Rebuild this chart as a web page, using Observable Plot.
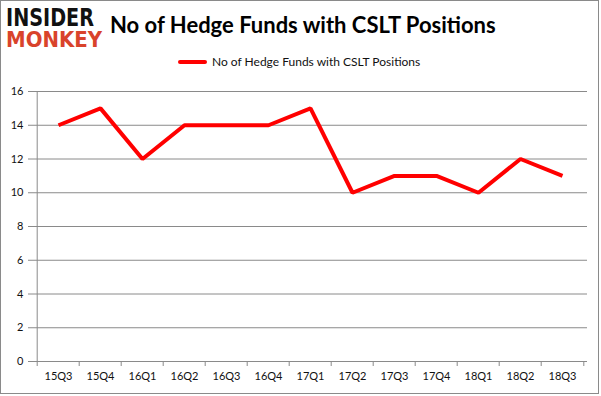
<!DOCTYPE html>
<html>
<head>
<meta charset="utf-8">
<script src="https://cdn.jsdelivr.net/npm/d3@7"></script>
<script src="https://cdn.jsdelivr.net/npm/@observablehq/plot@0.6"></script>
<style>
  body { margin: 0; background: #fff; }
  #wrap { position: relative; width: 601px; height: 396px; overflow: hidden; background: #fff; font-family: Lato, "Open Sans", sans-serif; }
  #frame { position: absolute; left: 0; top: 0; width: 597px; height: 392px; border: 1px solid #8a8a8a; pointer-events: none; }
  .logo { position: absolute; left: 6px; font-family: "DejaVu Sans", sans-serif; font-weight: bold; white-space: nowrap; transform-origin: left top; }
  #logoA { top: 8px; color: #111; font-size: 24px; line-height: 20px; height: 20px; }
  #logoB { top: 31px; color: #d9432b; font-size: 22px; line-height: 18px; height: 18px; }
  #title { position: absolute; left: 110px; top: 14px; font-weight: bold; font-size: 22px; line-height: 22px; color: #000; white-space: nowrap; }
  #legend { position: absolute; left: 178px; top: 56px; font-size: 12px; line-height: 12px; color: #111; display: flex; align-items: center; white-space: nowrap; }
  #legend .sw { width: 29px; height: 4px; background: #ff0000; margin-right: 5px; border-radius: 2px; }
  #chart { position: absolute; left: 0; top: 80px; }
</style>
</head>
<body>
<div id="wrap">
  <div id="logoA" class="logo">INSIDER</div>
  <div id="logoB" class="logo">MONKEY</div>
  <div id="title">No of Hedge Funds with CSLT Positions</div>
  <div id="legend"><span class="sw"></span><span>No of Hedge Funds with CSLT Positions</span></div>
  <div id="chart"></div>
  <div id="frame"></div>
</div>
<script>
const quarters = ["15Q3","15Q4","16Q1","16Q2","16Q3","16Q4","17Q1","17Q2","17Q3","17Q4","18Q1","18Q2","18Q3"];
const funds = [14,15,12,14,14,14,15,10,11,11,10,12,11];
const yTicks = [0,2,4,6,8,10,12,14,16];

// fit the logo words to their widths in the reference
[["logoA", 88], ["logoB", 96]].forEach(([id, w]) => {
  const el = document.getElementById(id);
  const r = el.getBoundingClientRect();
  el.style.transform = `scaleX(${w / r.width})`;
});

const data = quarters.map((q, i) => ({q, v: funds[i]}));
const W = 601, H = 316, mL = 33, mR = 14, mT = 11, mB = 35;
const half = (W - mL - mR) / quarters.length / 2;
const grid = "#8a8a8a";

const chart = Plot.plot({
  width: W, height: H,
  marginLeft: mL, marginRight: mR, marginTop: mT, marginBottom: mB,
  style: {fontFamily: "Lato, 'Open Sans', sans-serif", fontSize: "11px", color: "#111", background: "transparent"},
  x: {type: "band", domain: quarters, padding: 0, axis: null},
  y: {domain: [0, 16], axis: null},
  marks: [
    Plot.ruleY(yTicks, {stroke: grid, strokeWidth: 1}),
    Plot.ruleX([0], {x: () => quarters[0], dx: -half, y1: 0, y2: 16, stroke: grid}),
    Plot.axisY(yTicks, {tickSize: 5, tickPadding: 5, stroke: grid, fill: "#111", fontSize: 11, label: null}),
    Plot.axisX(quarters, {tickSize: 5, dx: -half, stroke: grid, tickFormat: () => "", label: null}),
    Plot.axisX([quarters[quarters.length - 1]], {tickSize: 5, dx: half, stroke: grid, tickFormat: () => "", label: null}),
    Plot.axisX(quarters, {tickSize: 0, tickPadding: 11, fill: "#111", fontSize: 11, label: null}),
    Plot.line(data, {x: "q", y: "v", stroke: "#ff0000", strokeWidth: 4, strokeLinejoin: "miter", strokeLinecap: "butt"})
  ]
});
document.getElementById("chart").appendChild(chart);
</script>
</body>
</html>
